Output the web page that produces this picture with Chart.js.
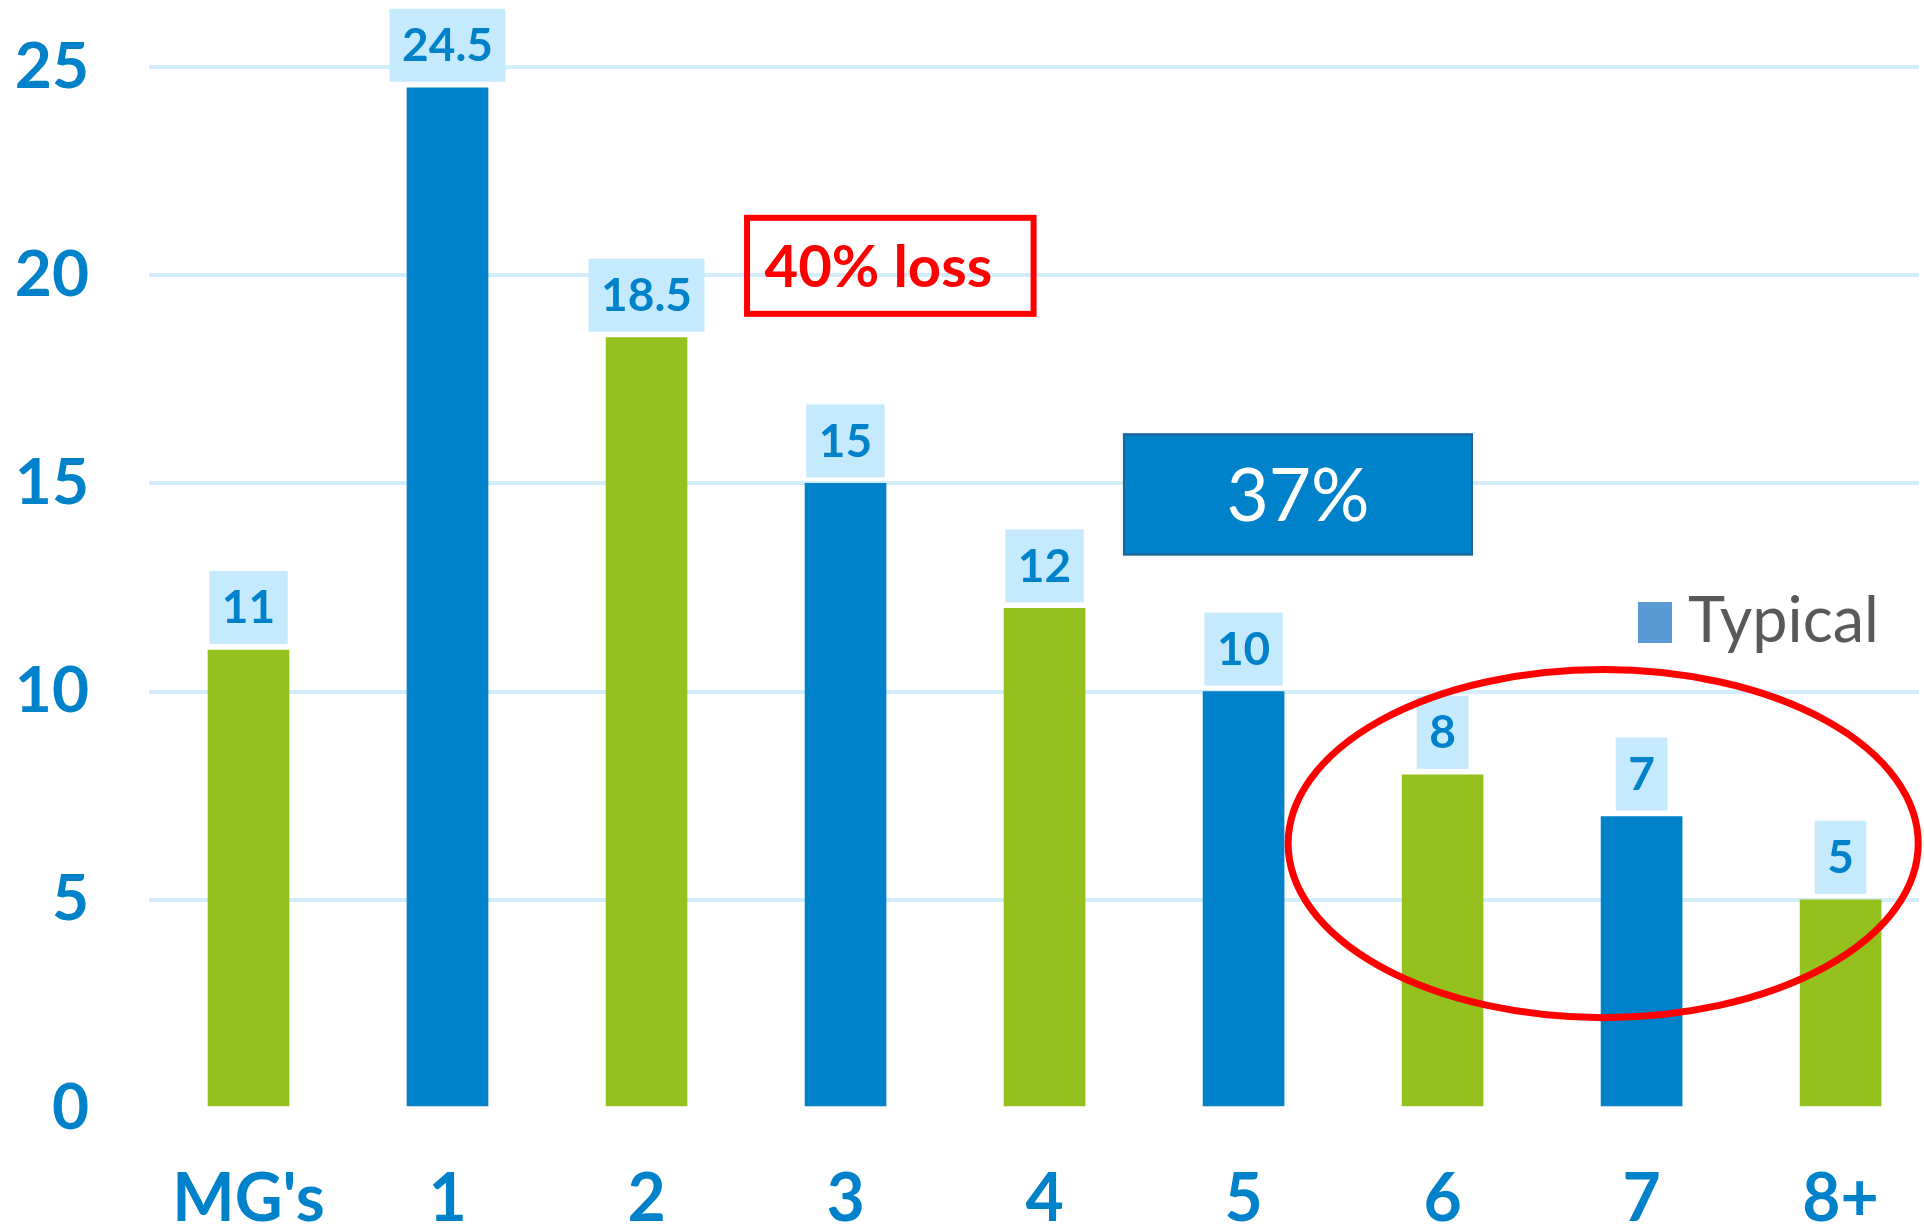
<!DOCTYPE html>
<html>
<head>
<meta charset="utf-8">
<script src="https://cdn.jsdelivr.net/npm/chart.js@4.4.1/dist/chart.umd.min.js"></script>
<style>
  html, body { margin: 0; padding: 0; background: #fff; overflow: hidden; }
  canvas { display: block; }
</style>
</head>
<body>
<canvas id="mg-Chart" width="1924" height="1228"></canvas>
<script>
// data
const categories = ["MG's", "1", "2", "3", "4", "5", "6", "7", "8+"];
const values = [11, 24.5, 18.5, 15, 12, 10, 8, 7, 5];
const barColors = ["#95C11F", "#0082CA", "#95C11F", "#0082CA", "#95C11F", "#0082CA", "#95C11F", "#0082CA", "#95C11F"];
const legendLabel = "Typical";

const BLUE = "#0082CA";
const FONT = "Lato";

// value boxes above bars
const valueLabels = {
  id: "valueLabels",
  afterDatasetsDraw(chart) {
    const ctx = chart.ctx;
    const meta = chart.getDatasetMeta(0);
    ctx.save();
    ctx.font = "bold 46px " + FONT;
    ctx.textAlign = "center";
    ctx.textBaseline = "alphabetic";
    meta.data.forEach((bar, i) => {
      const text = String(values[i]);
      const w = ctx.measureText(text).width + 25;
      const h = 73;
      const bottom = bar.y - 6;
      ctx.fillStyle = "#C5E9FD";
      ctx.fillRect(bar.x - w / 2, bottom - h, w, h);
      ctx.fillStyle = BLUE;
      ctx.fillText(text, bar.x, bottom - h / 2 + 16);
    });
    ctx.restore();
  },
};

// boxes, ellipse and legend drawn on top
const annotations = {
  id: "annotations",
  afterDraw(chart) {
    const { ctx } = chart;
    const x = chart.scales.x;
    const y = chart.scales.y;
    ctx.save();

    // "40% loss" box
    let l = x.getPixelForValue(2.49), r = x.getPixelForValue(3.96);
    let t = y.getPixelForValue(21.45), b = y.getPixelForValue(19.0);
    ctx.strokeStyle = "#FF0000";
    ctx.lineWidth = 6;
    ctx.strokeRect(l + 3, t + 3, r - l - 6, b - t - 6);
    ctx.fillStyle = "#FF0000";
    ctx.font = "bold 58px " + FONT;
    ctx.textAlign = "center";
    ctx.textBaseline = "alphabetic";
    ctx.fillText("40% loss", (l + r) / 2 - 12, (t + b) / 2 + 21);

    // "37%" box
    l = x.getPixelForValue(4.394); r = x.getPixelForValue(6.153);
    t = y.getPixelForValue(16.2); b = y.getPixelForValue(13.27);
    ctx.fillStyle = BLUE;
    ctx.fillRect(l, t, r - l, b - t);
    ctx.strokeStyle = "#1F6396";
    ctx.lineWidth = 2;
    ctx.strokeRect(l + 1, t + 1, r - l - 2, b - t - 2);
    ctx.fillStyle = "#FFFFFF";
    ctx.font = "73px " + FONT;
    ctx.fillText("37%", (l + r) / 2, (t + b) / 2 + 27);

    // red ellipse around the last bars
    const cx = x.getPixelForValue(6.807), cy = y.getPixelForValue(6.35);
    const rx = x.getPixelForValue(6.807 + 1.583) - cx;
    const ry = cy - y.getPixelForValue(6.35 + 4.18);
    ctx.beginPath();
    ctx.ellipse(cx, cy, rx, ry, 0, 0, Math.PI * 2);
    ctx.strokeStyle = "#FF0000";
    ctx.lineWidth = 7;
    ctx.stroke();

    // legend
    ctx.fillStyle = "#5B9BD5";
    ctx.fillRect(1638, 602, 34, 41);
    ctx.fillStyle = "#595959";
    ctx.font = "63px " + FONT;
    ctx.textAlign = "left";
    ctx.fillText(legendLabel, 1688, 642);

    ctx.restore();
  },
};

document.addEventListener("DOMContentLoaded", () => {
  const ctx = document.getElementById("mg-Chart");
  if (!ctx) {
    console.error("Canvas element not found");
    return;
  }
  new Chart(ctx, {
    type: "bar",
    data: {
      datasets: [
        {
          label: legendLabel,
          data: values.map((v, i) => ({ x: i, y: v })),
          backgroundColor: barColors,
          borderWidth: 0,
          barThickness: 81,
        },
      ],
    },
    options: {
      responsive: false,
      animation: false,
      layout: { padding: { top: 67, right: 5, left: 0, bottom: 0 } },
      plugins: {
        legend: { display: false },
        tooltip: { enabled: false },
      },
      scales: {
        x: {
          type: "linear",
          offset: false,
          min: -0.5,
          max: 8.394,
          afterBuildTicks: (axis) => {
            axis.ticks = categories.map((c, i) => ({ value: i }));
          },
          afterFit: (axis) => {
            axis.height = 120;
            axis.paddingLeft = 0;
            axis.paddingRight = 0;
          },
          grid: { display: false, drawTicks: false },
          border: { display: false },
          ticks: {
            callback: (v) => categories[v],
            font: { family: FONT, size: 66, weight: "bold" },
            color: BLUE,
            padding: 52,
            maxRotation: 0,
            autoSkip: false,
          },
        },
        y: {
          min: 0,
          max: 25,
          afterFit: (axis) => {
            axis.width = 149;
            axis.paddingTop = 0;
            axis.paddingBottom = 0;
          },
          grid: {
            color: (c) => (c.tick.value === 0 ? "rgba(0,0,0,0)" : "#D4EDFB"),
            lineWidth: 4,
            drawTicks: false,
          },
          border: { display: false },
          ticks: {
            stepSize: 5,
            font: { family: FONT, size: 64, weight: "bold" },
            color: BLUE,
            padding: 60,
          },
        },
      },
    },
    plugins: [valueLabels, annotations],
  });
});
</script>
</body>
</html>
